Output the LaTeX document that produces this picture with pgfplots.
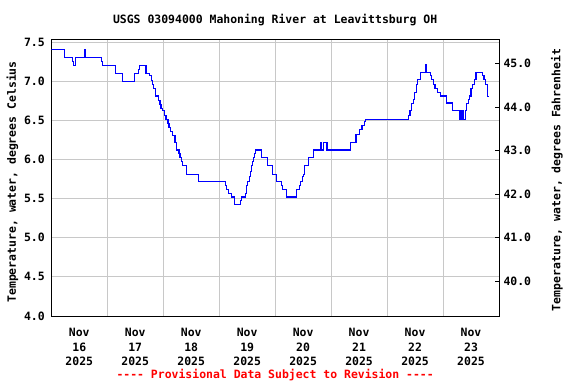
\documentclass[border=0pt]{standalone}
\usepackage{fontspec}
\setmainfont{DejaVu Sans Mono}
\usepackage{pgfplots}
\usepackage{pgfplotstable}
\pgfplotsset{compat=1.18}
\definecolor{gridgray}{RGB}{200,200,200}
\definecolor{lineblue}{RGB}{0,0,255}
\definecolor{provred}{RGB}{255,0,0}
\newcommand\lf{\bfseries\fontsize{11.5}{14.2}\selectfont}
\pgfplotstableread{
d T
0.000 7.40
0.230 7.30
0.375 7.25
0.393 7.20
0.428 7.25
0.440 7.30
0.595 7.40
0.612 7.30
0.898 7.25
0.916 7.20
1.148 7.10
1.278 7.00
1.487 7.10
1.551 7.15
1.569 7.20
1.693 7.10
1.754 7.07
1.783 7.01
1.807 6.96
1.830 6.91
1.854 6.81
1.920 6.755
1.943 6.70
1.961 6.65
1.991 6.62
2.021 6.56
2.050 6.51
2.086 6.46
2.103 6.41
2.128 6.36
2.164 6.31
2.211 6.22
2.235 6.12
2.282 6.07
2.300 6.02
2.324 5.97
2.342 5.92
2.419 5.81
2.638 5.72
3.108 5.67
3.138 5.62
3.173 5.57
3.215 5.52
3.275 5.42
3.376 5.47
3.394 5.52
3.465 5.57
3.483 5.67
3.501 5.72
3.536 5.78
3.554 5.85
3.572 5.92
3.590 5.97
3.608 6.02
3.626 6.07
3.643 6.12
3.762 6.02
3.857 5.92
3.946 5.81
4.029 5.72
4.107 5.67
4.125 5.62
4.196 5.52
4.385 5.62
4.433 5.67
4.457 5.72
4.487 5.78
4.504 5.81
4.528 5.92
4.599 6.02
4.688 6.12
4.813 6.22
4.831 6.12
4.866 6.22
4.927 6.12
5.342 6.22
5.444 6.32
5.515 6.38
5.551 6.43
5.604 6.48
5.622 6.51
6.383 6.56
6.410 6.62
6.435 6.71
6.465 6.76
6.495 6.86
6.524 6.96
6.549 7.02
6.590 7.11
6.679 7.21
6.703 7.11
6.768 7.07
6.798 7.02
6.827 6.96
6.857 6.91
6.900 6.86
6.947 6.81
7.065 6.72
7.166 6.62
7.303 6.51
7.339 6.62
7.369 6.51
7.398 6.62
7.422 6.71
7.451 6.76
7.476 6.81
7.500 6.91
7.530 6.96
7.560 7.02
7.589 7.11
7.701 7.07
7.731 7.02
7.761 6.96
7.790 6.91
7.800 6.80
7.826 6.80
}\temps
\begin{document}
\begin{tikzpicture}
\path[use as bounding box] (-51.3bp,-68bp) rectangle (524.7bp,316bp);
\begin{axis}[
  at={(0,0)}, anchor=south west, scale only axis,
  width=447.7bp, height=277bp,
  xmin=0, xmax=8, ymin=4, ymax=7.538,
  clip mode=individual,
  axis line style={black, line width=0.8bp},
  xtick={0.5,1.5,...,7.5},
  xticklabels={{Nov\\16\\2025},{Nov\\17\\2025},{Nov\\18\\2025},{Nov\\19\\2025},{Nov\\20\\2025},{Nov\\21\\2025},{Nov\\22\\2025},{Nov\\23\\2025}},
  xticklabel style={align=center, font=\lf, yshift=-9bp},
  minor xtick={1,2,...,7},
  xminorgrids=true, xmajorgrids=false,
  ytick={4.0,4.5,...,7.5},
  ymajorgrids=true,
  grid style={gridgray, line width=0.8bp},
  minor grid style={gridgray, line width=0.8bp},
  major tick length=0pt, minor tick length=0pt,
  ytick pos=left, xtick pos=bottom,
  yticklabel style={font=\lf, xshift=-3bp},
  /pgf/number format/assume math mode=true,
  yticklabel={\pgfmathprintnumber[fixed,fixed zerofill,precision=1]{\tick}},
  ylabel={Temperature, water, degrees Celsius},
  every axis y label/.style={at={(rel axis cs:-0.087,0.484)}, rotate=90, anchor=center, font=\lf},
]
\addplot[lineblue, line width=1.1bp, const plot] table[x=d, y=T] {\temps};
\node[font=\lf, anchor=base] at (rel axis cs:0.5,1.057) {USGS 03094000 Mahoning River at Leavittsburg OH};
\node[font=\lf, anchor=base, text=provred] at (rel axis cs:0.5,-0.2274) {-{}-{}-{}- Provisional Data Subject to Revision -{}-{}-{}-};
\end{axis}
\begin{axis}[
  at={(0,0)}, anchor=south west, scale only axis,
  width=447.7bp, height=277bp,
  xmin=0, xmax=8, ymin=39.2, ymax=45.5684,
  axis x line=none, axis y line*=right,
  axis line style={black, line width=0.8bp},
  ytick={40,41,...,45},
  tick align=inside, major tick length=4bp,
  tick style={black, line width=0.8bp},
  yticklabel style={font=\lf, xshift=1bp},
  /pgf/number format/assume math mode=true,
  yticklabel={\pgfmathprintnumber[fixed,fixed zerofill,precision=1]{\tick}},
  ylabel={Temperature, water, degrees Fahrenheit},
  ylabel style={at={(rel axis cs:1.1296,0.491)}, rotate=0, anchor=center, font=\lf},
]
\addplot[draw=none] coordinates {(0,40)};
\end{axis}
\end{tikzpicture}
\end{document}
